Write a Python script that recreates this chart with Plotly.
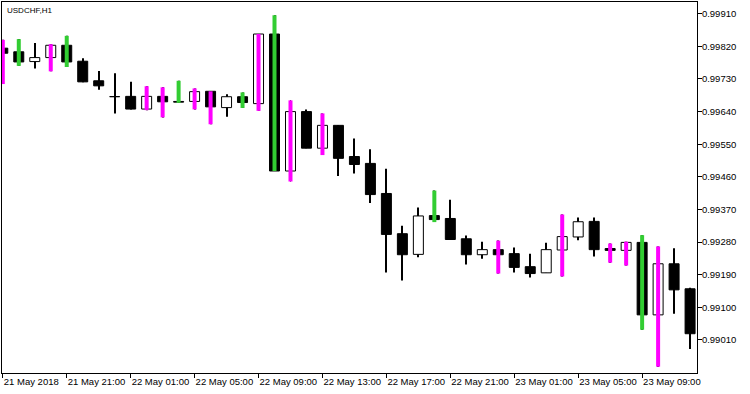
import numpy as np
import pandas as pd
import plotly.graph_objects as go

# ---- data ----
times = pd.date_range("2018-05-21 17:00", periods=44, freq="h")

opens = [0.99815, 0.99805, 0.99778, 0.99789, 0.99823, 0.99779, 0.99725, 0.99681,
         0.99682, 0.99647, 0.99682, 0.99668, 0.99668, 0.99696, 0.99651, 0.99681,
         0.99662, 0.99854, 0.99476, 0.99640, 0.99539, 0.99602, 0.99516, 0.99497,
         0.99414, 0.99303, 0.99246, 0.99353, 0.99345, 0.99289, 0.99245, 0.99259,
         0.99248, 0.99212, 0.99195, 0.99258, 0.99294, 0.99337, 0.99262, 0.99257,
         0.99279, 0.99079, 0.99220, 0.99151]
highs = [0.99838, 0.99840, 0.99829, 0.99826, 0.99849, 0.99787, 0.99752, 0.99746,
         0.99722, 0.99710, 0.99707, 0.99725, 0.99704, 0.99696, 0.99688, 0.99693,
         0.99854, 0.99906, 0.99671, 0.99646, 0.99635, 0.99602, 0.99566, 0.99536,
         0.99482, 0.99325, 0.99375, 0.99422, 0.99397, 0.99298, 0.99281, 0.99284,
         0.99265, 0.99248, 0.99278, 0.99356, 0.99348, 0.99348, 0.99276, 0.99281,
         0.99299, 0.99268, 0.99263, 0.99154]
lows = [0.99716, 0.99766, 0.99759, 0.99751, 0.99763, 0.99721, 0.99700, 0.99635,
        0.99646, 0.99644, 0.99624, 0.99664, 0.99646, 0.99605, 0.99626, 0.99650,
        0.99642, 0.99476, 0.99447, 0.99539, 0.99520, 0.99462, 0.99469, 0.99388,
        0.99196, 0.99174, 0.99238, 0.99335, 0.99287, 0.99218, 0.99234, 0.99193,
        0.99196, 0.99182, 0.99195, 0.99185, 0.99285, 0.99240, 0.99223, 0.99215,
        0.99038, 0.98936, 0.99082, 0.98985]
closes = [0.99801, 0.99777, 0.99789, 0.99823, 0.99777, 0.99722, 0.99711, 0.99681,
          0.99647, 0.99682, 0.99667, 0.99666, 0.99695, 0.99653, 0.99681, 0.99665,
          0.99854, 0.99476, 0.99640, 0.99539, 0.99602, 0.99511, 0.99494, 0.99411,
          0.99301, 0.99245, 0.99352, 0.99342, 0.99287, 0.99245, 0.99259, 0.99245,
          0.99210, 0.99193, 0.99259, 0.99295, 0.99336, 0.99259, 0.99257, 0.99279,
          0.99079, 0.99220, 0.99148, 0.99027]
# indicator colour per bar: g = green, m = magenta, "" = none
signals = ["m", "g", "", "m", "g", "", "", "", "", "m", "m", "g", "m", "m", "", "g",
           "m", "g", "m", "", "m", "", "", "", "", "", "", "g", "", "", "", "m",
           "", "", "", "m", "", "", "m", "m", "g", "m", "", ""]

tick_times = pd.date_range("2018-05-21 17:00", periods=11, freq="4h")
tick_text = ["21 May 2018", "21 May 21:00", "22 May 01:00", "22 May 05:00",
             "22 May 09:00", "22 May 13:00", "22 May 17:00", "22 May 21:00",
             "23 May 01:00", "23 May 05:00", "23 May 09:00"]
price_ticks = [0.99010, 0.99100, 0.99190, 0.99280, 0.99370, 0.99460,
               0.99550, 0.99640, 0.99730, 0.99820, 0.99910]

# ---- figure ----
O = np.array(opens); H = np.array(highs); L = np.array(lows); C = np.array(closes)
HOUR = 3600000.0

fig = go.Figure()
# wicks
fig.add_trace(go.Bar(x=times, base=L, y=H - L, width=HOUR / 16,
                     marker=dict(color="black", line=dict(width=0)),
                     hoverinfo="skip"))
# bodies
fills = ["white" if c > o else "black" for o, c in zip(O, C)]
fig.add_trace(go.Bar(x=times, base=np.minimum(O, C),
                     y=np.maximum(np.abs(C - O), 0.000004), width=HOUR * 10 / 16,
                     marker=dict(color=fills, line=dict(color="black", width=1)),
                     hoverinfo="skip"))
# indicator bars
for key, col in [("g", "#32CD32"), ("m", "#FF00FF")]:
    idx = [i for i, s in enumerate(signals) if s == key]
    fig.add_trace(go.Bar(x=times[idx], base=L[idx], y=(H - L)[idx], width=HOUR * 4 / 16,
                         marker=dict(color=col, line=dict(width=0)),
                         hoverinfo="skip"))

font = dict(family="Liberation Sans, Arial, sans-serif", size=9.5, color="black")
x0 = times[0] - pd.Timedelta(minutes=3)
x1 = times[-1] + pd.Timedelta(minutes=26)

fig.update_layout(
    template="none",
    width=750, height=394,
    margin=dict(l=2, r=53, t=2, b=21, autoexpand=False),
    paper_bgcolor="white", plot_bgcolor="white",
    barmode="overlay", showlegend=False,
    xaxis=dict(type="date", range=[x0, x1], tickvals=tick_times, ticktext=tick_text,
               ticks="outside", ticklen=4, tickcolor="black", tickwidth=1,
               showline=True, linecolor="black", linewidth=1, mirror=True,
               showgrid=False, zeroline=False, ticklabelposition="outside right",
               tickangle=0, automargin=False, tickfont=font),
    yaxis=dict(side="right", range=[0.989186, 0.999424], tickvals=price_ticks,
               ticktext=[f"{v:.5f}" for v in price_ticks],
               ticks="outside", ticklen=4, tickcolor="black", tickwidth=1,
               showline=True, linecolor="black", linewidth=1, mirror=True,
               showgrid=False, zeroline=False, automargin=False, tickfont=font,
               ticklabelstandoff=-2),
    annotations=[dict(text="USDCHF,H1", x=0, y=1, xref="paper", yref="paper",
                      xanchor="left", yanchor="top", xshift=3, yshift=-2,
                      showarrow=False, font=dict(family="Liberation Sans, Arial, sans-serif",
                                                 size=8, color="black"))],
)

fig.write_html("out.html",
               config={"displayModeBar": False},
               post_script="document.body.style.margin='0px';"
                           "document.body.style.overflow='hidden';")
